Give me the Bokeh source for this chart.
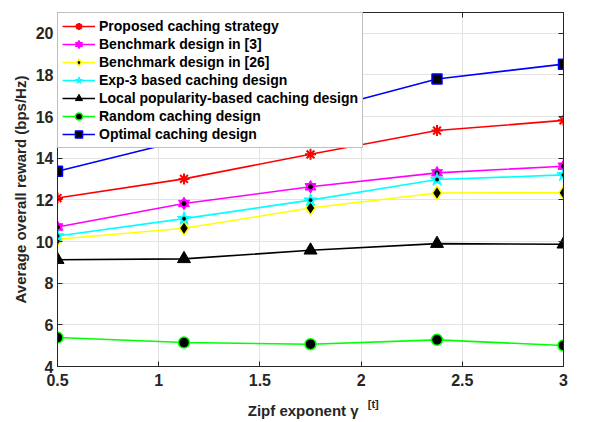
from bokeh.plotting import figure
from bokeh.models import (Range1d, LinearAxis, Legend, LegendItem, FixedTicker)
from bokeh.embed import file_html
from bokeh.resources import INLINE

x = [0.5, 1.125, 1.75, 2.375, 3.0]
proposed = [12.09, 13.01, 14.19, 15.33, 15.82]
bench3 = [10.70, 11.83, 12.63, 13.30, 13.62]
bench26 = [10.11, 10.64, 11.61, 12.33, 12.34]
exp3 = [10.27, 11.10, 11.99, 12.98, 13.20]
local_pop = [9.13, 9.17, 9.58, 9.90, 9.87]
random_c = [5.39, 5.15, 5.07, 5.28, 5.01]
optimal = [13.38, 14.88, 16.2, 17.81, 18.52]

x_ticks = [0.5, 1, 1.5, 2, 2.5, 3]
y_ticks = [4, 6, 8, 10, 12, 14, 16, 18, 20]
names = ["Proposed caching strategy", "Benchmark design in [3]", "Benchmark design in [26]",
         "Exp-3 based caching design", "Local popularity-based caching design",
         "Random caching design", "Optimal caching design"]
x_title = "Zipf exponent \u03b3"
x_title_sup = "[t]"
y_title = "Average overall reward (bps/Hz)"

FONT = "Liberation Sans"
AX = "#262626"

p = figure(width=613, height=421, output_backend="svg", toolbar_location=None,
           x_range=Range1d(0.5, 3.0), y_range=Range1d(4, 21),
           min_border_left=57, min_border_right=50, min_border_top=12, min_border_bottom=10)
p.background_fill_color = "white"
p.outline_line_color = AX
p.outline_line_width = 1

for ax in (p.xaxis[0], p.yaxis[0]):
    ax.major_tick_in = 5
    ax.major_tick_out = 0
    ax.minor_tick_in = 0
    ax.minor_tick_out = 0
    ax.axis_line_color = AX
    ax.major_tick_line_color = AX
    ax.major_label_text_font = FONT
    ax.major_label_text_font_style = "bold"
    ax.major_label_text_font_size = "16px"
    ax.major_label_text_color = AX
    ax.axis_label_text_font = FONT
    ax.axis_label_text_font_style = "bold"
    ax.axis_label_text_font_size = "15px"
    ax.axis_label_text_color = AX
p.xaxis.ticker = FixedTicker(ticks=x_ticks)
p.yaxis.ticker = FixedTicker(ticks=y_ticks)
p.xaxis.major_label_overrides = {0.5: "0.5", 1: "1", 1.5: "1.5", 2: "2", 2.5: "2.5", 3: "3"}
p.yaxis.axis_label = y_title
p.xaxis.major_label_standoff = 7
p.yaxis.major_label_standoff = 4
p.yaxis.axis_label_standoff = 4

# superscript "[t]" and the x title as labels of extra, line-less axes below
SUP_X = 2.06
TITLE_X = 1.714
sup_axis = LinearAxis(ticker=FixedTicker(ticks=[SUP_X]), major_label_overrides={SUP_X: x_title_sup},
                      major_label_text_font=FONT, major_label_text_font_style="bold",
                      major_label_text_font_size="11px", major_label_text_color=AX,
                      axis_line_color=None, major_tick_line_color=None, minor_tick_line_color=None,
                      major_tick_in=0, major_tick_out=0, minor_tick_in=0, minor_tick_out=0,
                      major_label_standoff=9)
title_axis = LinearAxis(ticker=FixedTicker(ticks=[TITLE_X]), major_label_overrides={TITLE_X: x_title},
                        major_label_text_font=FONT, major_label_text_font_style="bold",
                        major_label_text_font_size="15px", major_label_text_color=AX,
                        axis_line_color=None, major_tick_line_color=None, minor_tick_line_color=None,
                        major_tick_in=0, major_tick_out=0, minor_tick_in=0, minor_tick_out=0,
                        major_label_standoff=-11)
p.add_layout(sup_axis, "below")
p.add_layout(title_axis, "below")

for loc, tk in (("right", y_ticks), ("above", x_ticks)):
    a = LinearAxis(ticker=FixedTicker(ticks=tk), major_label_text_font_size="1px",
                   major_label_overrides={t: "" for t in tk},
                   major_tick_in=5, major_tick_out=0, minor_tick_in=0, minor_tick_out=0,
                   axis_line_color=AX, major_tick_line_color=AX, major_label_standoff=0)
    p.add_layout(a, loc)

p.xgrid.ticker = FixedTicker(ticks=x_ticks)
p.ygrid.ticker = FixedTicker(ticks=y_ticks)
p.xgrid.grid_line_color = "#e3e3e3"
p.ygrid.grid_line_color = "#e3e3e3"

items = []
LW = 1.6

r1 = p.line(x, proposed, line_color="red", line_width=LW)
m1 = p.scatter(x, proposed, marker="asterisk", size=11, line_color="red", line_width=2)
items.append(LegendItem(label=names[0], renderers=[r1, m1]))

r2 = p.line(x, bench3, line_color="magenta", line_width=LW)
m2a = p.scatter(x, bench3, marker="triangle", size=11, fill_color="magenta", line_color="magenta")
m2b = p.scatter(x, bench3, marker="inverted_triangle", size=11, fill_color="magenta", line_color="magenta")
m2c = p.scatter(x, bench3, marker="circle", size=4, fill_color="black", line_color="black")
items.append(LegendItem(label=names[1], renderers=[r2, m2a, m2b]))

r3 = p.line(x, bench26, line_color="yellow", line_width=LW)
m3 = p.scatter(x, bench26, marker="diamond", size=14, fill_color="black", line_color="yellow", line_width=1.5)
items.append(LegendItem(label=names[2], renderers=[r3, m3]))

r4 = p.line(x, exp3, line_color="cyan", line_width=LW)
m4 = p.scatter(x, exp3, marker="star", size=14, fill_color="cyan", line_color="cyan")
m4b = p.scatter(x, exp3, marker="circle", size=3, fill_color="black", line_color="black")
items.append(LegendItem(label=names[3], renderers=[r4, m4]))

r5 = p.line(x, local_pop, line_color="black", line_width=LW)
m5 = p.scatter(x, local_pop, marker="triangle", size=13, fill_color="black", line_color="black")
items.append(LegendItem(label=names[4], renderers=[r5, m5]))

r6 = p.line(x, random_c, line_color="#00ff00", line_width=LW)
m6 = p.scatter(x, random_c, marker="circle", size=11, fill_color="black", line_color="#00ff00", line_width=1.5)
items.append(LegendItem(label=names[5], renderers=[r6, m6]))

r7 = p.line(x, optimal, line_color="blue", line_width=LW)
m7 = p.scatter(x, optimal, marker="square", size=10, fill_color="black", line_color="blue", line_width=1.5)
items.append(LegendItem(label=names[6], renderers=[r7, m7]))

legend = Legend(items=items, location="top_left", margin=0, padding=4, spacing=0,
                label_text_font=FONT, label_text_font_style="bold", label_text_font_size="14px",
                label_text_color="black", label_height=18, glyph_height=18, glyph_width=33,
                label_standoff=4, border_line_color="#7f7f7f", border_line_width=1,
                background_fill_alpha=1.0)
p.add_layout(legend, "center")

open("out.html", "w").write(file_html(p, INLINE))
